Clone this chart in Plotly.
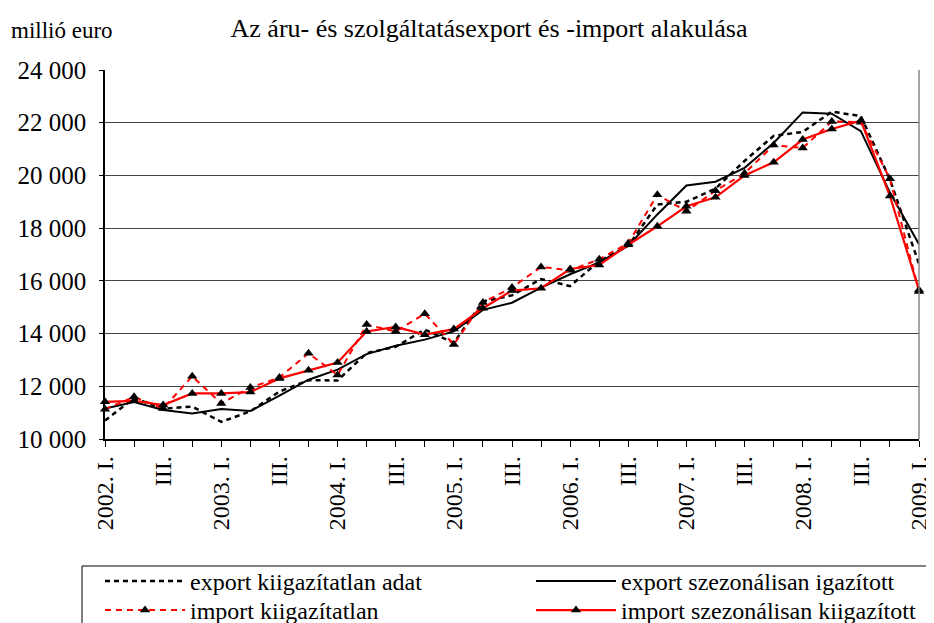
import plotly.graph_objects as go

years = [2002, 2003, 2004, 2005, 2006, 2007, 2008, 2009]
quarters = ["I.", "II.", "III.", "IV."]
labels = []
for y in years:
    for qi, q in enumerate(quarters):
        if y == 2009 and qi > 0:
            break
        labels.append(f"{y}. {q}" if qi == 0 else q)

export_unadj = [10700, 11550, 11150, 11230, 10650, 11050, 11800, 12230, 12220, 13260,
                13500, 14150, 13650, 15220, 15450, 16070, 15800, 16750, 17330, 18900,
                19000, 19500, 20550, 21500, 21650, 22420, 22250, 19850, 16640]
export_sa = [11160, 11400, 11100, 10970, 11140, 11060, 11650, 12250, 12630, 13220,
             13540, 13770, 14080, 14900, 15170, 15740, 16250, 16700, 17330, 18520,
             19620, 19760, 20290, 21230, 22390, 22340, 21680, 19350, 17390]
import_unadj = [11130, 11600, 11160, 12380, 11350, 11950, 12330, 13250, 12430, 14340,
                14080, 14750, 13590, 15180, 15750, 16530, 16400, 16820, 17430, 19270,
                18640, 19420, 20080, 21150, 21040, 22050, 22020, 19870, 15600]
import_sa = [11410, 11450, 11290, 11730, 11730, 11780, 12300, 12610, 12900, 14080,
             14250, 13960, 14170, 14960, 15630, 15720, 16450, 16600, 17370, 18070,
             18830, 19170, 20000, 20500, 21360, 21760, 22080, 19220, 15650]

names = ["export kiigazítatlan adat", "export szezonálisan igazított",
         "import kiigazítatlan", "import szezonálisan kiigazított"]

x = list(range(len(labels)))
ticktext = [lab if i % 2 == 0 else "" for i, lab in enumerate(labels)]
FONT = "Liberation Serif"

W, H = 926, 615
L, R, T, B = 97, 15, 62, 184
PW, PH = W - L - R, H - T - B


def px_x(page_x):
    return (page_x - 8 - L) / PW


def px_y(page_y):
    return (H - B - (page_y - 8)) / PH


fig = go.Figure()
fig.add_trace(go.Scatter(x=x, y=export_unadj, name=names[0], mode="lines", legend="legend",
                         line=dict(color="black", width=2.5, dash="5px,4px"), cliponaxis=False))
fig.add_trace(go.Scatter(x=x, y=export_sa, name=names[1], mode="lines", legend="legend2",
                         line=dict(color="black", width=2), cliponaxis=False))
fig.add_trace(go.Scatter(x=x, y=import_unadj, name=names[2], mode="lines+markers", legend="legend3",
                         line=dict(color="red", width=2, dash="6px,5px"),
                         marker=dict(symbol="triangle-up", color="black", size=9), cliponaxis=False))
fig.add_trace(go.Scatter(x=x, y=import_sa, name=names[3], mode="lines+markers", legend="legend4",
                         line=dict(color="red", width=2.2),
                         marker=dict(symbol="triangle-up", color="black", size=9), cliponaxis=False))

leg_common = dict(orientation="v", yanchor="top", xanchor="left",
                  bgcolor="rgba(0,0,0,0)", borderwidth=0, itemwidth=80,
                  font=dict(family=FONT, size=24, color="black"),
                  tracegroupgap=0, traceorder="normal")

COL1, COL2 = 100, 531
ROW1, ROW2 = 559, 588

fig.update_layout(
    width=W, height=H,
    margin=dict(l=L, r=R, t=T, b=B, autoexpand=False),
    paper_bgcolor="white", plot_bgcolor="white",
    separators=". ",
    font=dict(family=FONT, size=24, color="black"),
    title=dict(text="Az áru- és szolgáltatásexport és -import alakulása",
               xref="container", x=481 / W, xanchor="center",
               yref="container", y=1 - 20 / H, yanchor="middle",
               font=dict(family=FONT, size=26, color="black")),
    showlegend=True,
    legend=dict(x=px_x(COL1), y=px_y(ROW1), **leg_common),
    legend2=dict(x=px_x(COL2), y=px_y(ROW1), **leg_common),
    legend3=dict(x=px_x(COL1), y=px_y(ROW2), **leg_common),
    legend4=dict(x=px_x(COL2), y=px_y(ROW2), **leg_common),
    xaxis=dict(range=[0, 28], tickmode="array", tickvals=x, ticktext=ticktext,
               tickangle=-90, ticks="outside", ticklen=6, tickcolor="black",
               showline=True, linecolor="black", linewidth=1.5,
               showgrid=False, zeroline=False, fixedrange=True,
               tickfont=dict(family=FONT, size=24)),
    yaxis=dict(range=[10000, 24000], dtick=2000, tickformat=",d",
               ticks="outside", ticklen=4, tickcolor="black",
               ticklabelstandoff=8,
               showline=True, linecolor="black", linewidth=1.5,
               showgrid=True, gridcolor="#444444", gridwidth=1, zeroline=False,
               tickfont=dict(family=FONT, size=25)),
    annotations=[dict(text="millió euro", xref="paper", yref="paper", x=px_x(9), y=px_y(31),
                      xanchor="left", yanchor="middle", showarrow=False,
                      font=dict(family=FONT, size=23, color="black"))],
    shapes=[dict(type="line", xref="paper", yref="paper", x0=1, x1=1, y0=0, y1=1,
                 line=dict(color="#888888", width=1.5)),
            dict(type="rect", xref="paper", yref="paper",
                 x0=px_x(82), x1=px_x(960), y0=px_y(566), y1=px_y(660),
                 line=dict(color="black", width=1), fillcolor="rgba(0,0,0,0)")],
)

fig.write_html("out.html")
